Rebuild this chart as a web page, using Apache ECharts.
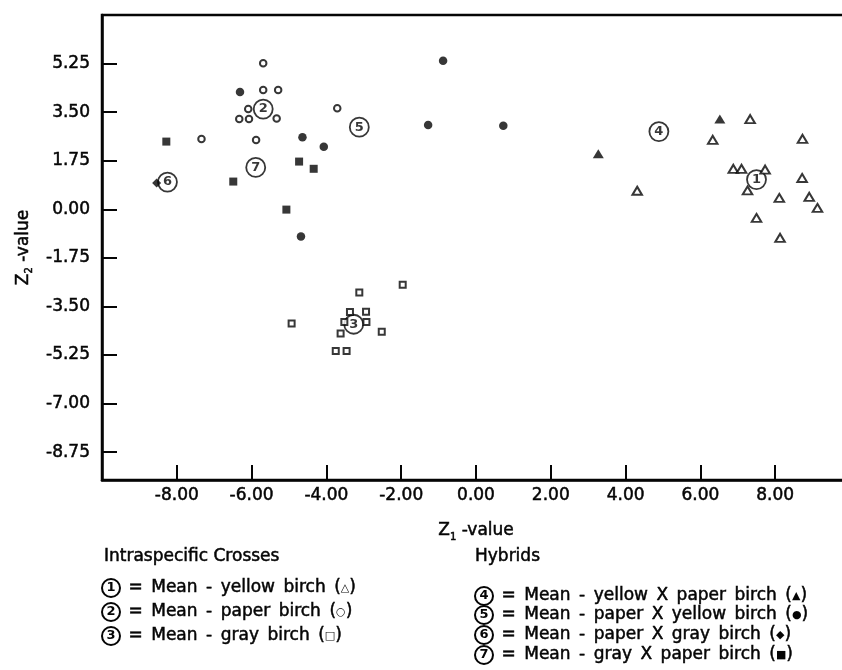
<!DOCTYPE html>
<html>
<head>
<meta charset="utf-8">
<script src="https://cdn.jsdelivr.net/npm/echarts@6/dist/echarts.min.js"></script>
<style>
  html, body { margin: 0; padding: 0; background: #fff; }
  #chart { width: 842px; height: 670px; }
</style>
</head>
<body>
<div id="chart"></div>
<script>
// Discriminant scores (Z1, Z2) of birch seedlings by cross type
const yellowBirchZ1 = [7.33, 6.33, 8.73, 6.88, 7.10, 7.73, 8.72, 4.31, 7.26, 8.11, 8.91, 9.13, 7.50, 8.13];
const yellowBirchZ2 = [3.25, 2.50, 2.54, 1.46, 1.46, 1.43, 1.13, 0.67, 0.68, 0.41, 0.45, 0.05, -0.31, -1.03];

const paperBirchZ1 = [-5.69, -5.69, -5.29, -6.09, -6.33, -6.07, -5.33, -7.34, -5.88, -3.71];
const paperBirchZ2 = [5.26, 4.30, 4.30, 3.61, 3.25, 3.25, 3.27, 2.53, 2.50, 3.64];

const grayBirchZ1 = [-4.93, -3.12, -1.96, -3.37, -2.94, -3.52, -2.93, -3.62, -2.52, -3.75, -3.46];
const grayBirchZ2 = [-4.11, -3.00, -2.72, -3.70, -3.69, -4.06, -4.06, -4.47, -4.41, -5.10, -5.10];

const yellowXPaperZ1 = [6.52, 3.27];
const yellowXPaperZ2 = [3.25, 2.00];

const paperXYellowZ1 = [-6.31, -4.64, -4.07, -4.68, -0.88, -1.28, 0.73];
const paperXYellowZ2 = [4.23, 2.60, 2.25, -0.98, 5.35, 3.04, 3.01];

const paperXGrayZ1 = [-8.54];
const paperXGrayZ2 = [0.95];

const grayXPaperZ1 = [-8.28, -6.49, -4.73, -4.34, -5.07];
const grayXPaperZ2 = [2.44, 1.00, 1.72, 1.46, -0.01];

// Group means, numbered 1-7
const meanIds = ['1', '2', '3', '4', '5', '6', '7'];
const meanZ1 = [7.50, -5.69, -3.27, 4.89, -3.12, -8.25, -5.89];
const meanZ2 = [1.07, 3.61, -4.14, 2.80, 2.96, 0.98, 1.51];

// Axis ticks
const xTicks = [-8, -6, -4, -2, 0, 2, 4, 6, 8];
const yTicks = [-8.75, -7, -5.25, -3.5, -1.75, 0, 1.75, 3.5, 5.25];

// Key text
const keyTitles = ['Intraspecific Crosses', 'Hybrids'];
const keyIntra = [
  ['1', 'Mean - yellow birch', '△'],
  ['2', 'Mean - paper birch', '○'],
  ['3', 'Mean - gray birch', '□']
];
const keyHybrid = [
  ['4', 'Mean - yellow X paper birch', '▲'],
  ['5', 'Mean - paper X yellow birch', '●'],
  ['6', 'Mean - paper X gray birch', '◆'],
  ['7', 'Mean - gray X paper birch', '■']
];

const FONT = '"DejaVu Sans", "Liberation Sans", sans-serif';
const INK = '#050505';
const HEAVY = 0.5; // extra stroke that gives the type a medium weight
const WIDE_SPACE = '\u2002'; // en space for the airier word spacing of the key

function pairs(xs, ys) { return xs.map((x, i) => [x, ys[i]]); }

const openStyle = { color: '#fff', borderColor: INK, borderWidth: 2 };
const solidStyle = { color: INK };

const textCommon = { fontFamily: FONT, color: INK, textBorderColor: INK, textBorderWidth: HEAVY };

const rich = {
  m: Object.assign({ fontSize: 17, lineHeight: 22 }, textCommon),
  sub: Object.assign({ fontSize: 10, lineHeight: 10, verticalAlign: 'bottom' }, textCommon)
};

// zrender-level rich styles for the key (graphic elements)
const keyRich = {
  c: {
    width: 18, height: 18, lineHeight: 18, align: 'center',
    borderColor: INK, borderWidth: 2, borderRadius: 10,
    fontFamily: FONT, fontSize: 13, fontWeight: 'bold', fill: INK
  },
  t: { fontFamily: FONT, fontSize: 17, fill: INK, stroke: INK, lineWidth: HEAVY },
  s: { fontFamily: FONT, fontSize: 11, fill: INK }
};

function keyLine(item, x, y) {
  const words = (' = ' + item[1] + ' (').split(' ').join(WIDE_SPACE);
  return {
    type: 'text', x: x, y: y, silent: true,
    style: {
      text: '{c|' + item[0] + '}{t|' + words + '}{s|' + item[2] + '}{t|)}',
      rich: keyRich,
      verticalAlign: 'middle',
      fill: INK
    }
  };
}

function keyTitle(text, x, y) {
  return {
    type: 'text', x: x, y: y, silent: true,
    style: {
      text: text, font: '17px ' + FONT, fill: INK,
      stroke: INK, lineWidth: HEAVY, verticalAlign: 'middle'
    }
  };
}

const graphics = [keyTitle(keyTitles[0], 104, 557), keyTitle(keyTitles[1], 475, 557)];
const intraY = [588, 612, 636];
keyIntra.forEach((it, i) => graphics.push(keyLine(it, 102, intraY[i])));
const hybridY = [596, 615, 635, 655];
keyHybrid.forEach((it, i) => graphics.push(keyLine(it, 475, hybridY[i])));

const chart = echarts.init(document.getElementById('chart'), null, { renderer: 'canvas' });

const tickLabel = Object.assign({ fontSize: 17, formatter: v => v.toFixed(2) }, textCommon);

chart.setOption({
  animation: false,
  backgroundColor: '#fff',
  grid: {
    left: 102, top: 15, width: 748, height: 465,
    outerBoundsMode: 'none', containLabel: false,
    show: true, borderColor: INK, borderWidth: 2.5, backgroundColor: 'transparent'
  },
  xAxis: {
    type: 'value', min: -10, max: 10,
    name: '{m|Z}{sub|1}{m| -value}',
    nameLocation: 'middle', nameGap: 40,
    nameTextStyle: { rich: rich },
    axisLine: { onZero: false, lineStyle: { color: INK, width: 2.5 } },
    axisTick: { inside: true, length: 15, customValues: xTicks, lineStyle: { color: INK, width: 2 } },
    axisLabel: Object.assign({ customValues: xTicks, margin: 7 }, tickLabel),
    splitLine: { show: false }
  },
  yAxis: {
    type: 'value', min: -9.75, max: 7,
    name: '{m|Z}{sub|2}{m| -value}',
    nameLocation: 'middle', nameGap: 67, nameRotate: 90,
    nameTextStyle: { rich: rich },
    axisLine: { onZero: false, lineStyle: { color: INK, width: 2.5 } },
    axisTick: { inside: true, length: 15, customValues: yTicks, lineStyle: { color: INK, width: 2 } },
    axisLabel: Object.assign({ customValues: yTicks, margin: 12 }, tickLabel),
    splitLine: { show: false }
  },
  series: [
    {
      name: 'Means', type: 'scatter', z: 1,
      symbol: 'circle', symbolSize: 19,
      itemStyle: { color: '#fff', borderColor: INK, borderWidth: 1.8 },
      label: {
        show: true, position: 'inside', formatter: '{b}',
        fontFamily: FONT, fontSize: 13, fontWeight: 'bold', color: INK
      },
      data: meanIds.map((id, i) => ({ name: id, value: [meanZ1[i], meanZ2[i]] }))
    },
    { name: 'yellow birch', type: 'scatter', z: 2, symbol: 'triangle', symbolSize: [9.5, 8],
      itemStyle: openStyle, data: pairs(yellowBirchZ1, yellowBirchZ2) },
    { name: 'paper birch', type: 'scatter', z: 2, symbol: 'circle', symbolSize: 6.5,
      itemStyle: openStyle, data: pairs(paperBirchZ1, paperBirchZ2) },
    { name: 'gray birch', type: 'scatter', z: 2, symbol: 'rect', symbolSize: 6,
      itemStyle: openStyle, data: pairs(grayBirchZ1, grayBirchZ2) },
    { name: 'yellow X paper birch', type: 'scatter', z: 2, symbol: 'triangle', symbolSize: [11, 9],
      itemStyle: solidStyle, data: pairs(yellowXPaperZ1, yellowXPaperZ2) },
    { name: 'paper X yellow birch', type: 'scatter', z: 2, symbol: 'circle', symbolSize: 8.5,
      itemStyle: solidStyle, data: pairs(paperXYellowZ1, paperXYellowZ2) },
    { name: 'paper X gray birch', type: 'scatter', z: 2, symbol: 'diamond', symbolSize: [9, 9],
      itemStyle: solidStyle, data: pairs(paperXGrayZ1, paperXGrayZ2) },
    { name: 'gray X paper birch', type: 'scatter', z: 2, symbol: 'rect', symbolSize: 8,
      itemStyle: solidStyle, data: pairs(grayXPaperZ1, grayXPaperZ2) }
  ],
  graphic: graphics
});
</script>
</body>
</html>
